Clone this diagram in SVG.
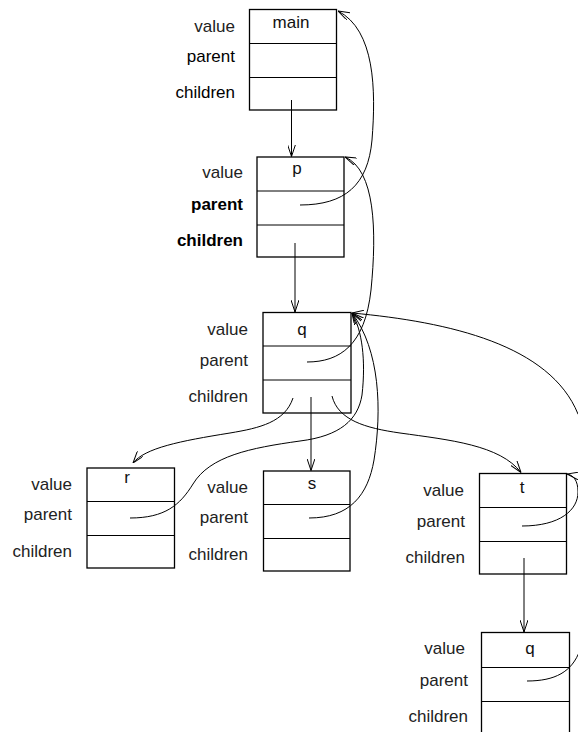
<svg xmlns="http://www.w3.org/2000/svg" width="578" height="732" viewBox="0 0 578 732">
<style>
  .box { fill: #fff; stroke: #000; stroke-width: 1.3; }
  .div { stroke: #000; stroke-width: 1; }
  .lbl { font-family: "Liberation Sans", Arial, sans-serif; font-size: 17px; fill: #222; text-anchor: end; }
  .val { font-family: "Liberation Sans", Arial, sans-serif; font-size: 17px; fill: #111; text-anchor: middle; }
  .dark { fill: #000; }
  .bold { font-weight: bold; fill: #000; }
  .con { fill: none; stroke: #000; stroke-width: 1; marker-end: url(#arr); }
</style>
<defs>
  <marker id="arr" viewBox="0 0 12 8" refX="12" refY="4" markerWidth="12" markerHeight="8" markerUnits="userSpaceOnUse" orient="auto">
    <path d="M0,0 L12,4 L0,8" fill="none" stroke="#000" stroke-width="1"/>
  </marker>
</defs>
<rect width="578" height="732" fill="#fff"/>

<g id="node-main">
  <rect class="box" x="249.5" y="9.5" width="87" height="100.5"/>
  <line class="div" x1="249.5" y1="43.5" x2="336.5" y2="43.5"/>
  <line class="div" x1="249.5" y1="77.5" x2="336.5" y2="77.5"/>
  <text class="val" x="291" y="28">main</text>
  <text class="lbl" x="235" y="32">value</text>
  <text class="lbl dark" x="235" y="62">parent</text>
  <text class="lbl dark" x="235" y="98">children</text>
</g>

<g id="node-p">
  <rect class="box" x="257" y="157" width="87" height="100"/>
  <line class="div" x1="257" y1="191" x2="344" y2="191"/>
  <line class="div" x1="257" y1="225" x2="344" y2="225"/>
  <text class="val" x="297" y="174">p</text>
  <text class="lbl" x="243" y="178">value</text>
  <text class="lbl bold" x="243" y="210">parent</text>
  <text class="lbl bold" x="243" y="246">children</text>
</g>

<g id="node-q">
  <rect class="box" x="263" y="312.5" width="88" height="100.5"/>
  <line class="div" x1="263" y1="346" x2="351" y2="346"/>
  <line class="div" x1="263" y1="380" x2="351" y2="380"/>
  <text class="val" x="302" y="335">q</text>
  <text class="lbl" x="248" y="335">value</text>
  <text class="lbl" x="248" y="366">parent</text>
  <text class="lbl" x="248" y="402">children</text>
</g>

<g id="node-r">
  <rect class="box" x="87" y="468" width="87.5" height="100"/>
  <line class="div" x1="87" y1="501.5" x2="174.5" y2="501.5"/>
  <line class="div" x1="87" y1="535.5" x2="174.5" y2="535.5"/>
  <text class="val" x="127" y="483">r</text>
  <text class="lbl" x="72" y="490">value</text>
  <text class="lbl" x="72" y="520">parent</text>
  <text class="lbl" x="72" y="557">children</text>
</g>

<g id="node-s">
  <rect class="box" x="263.5" y="471" width="86.5" height="100"/>
  <line class="div" x1="263.5" y1="504.5" x2="350" y2="504.5"/>
  <line class="div" x1="263.5" y1="538.5" x2="350" y2="538.5"/>
  <text class="val" x="312" y="489">s</text>
  <text class="lbl" x="248" y="493">value</text>
  <text class="lbl" x="248" y="523">parent</text>
  <text class="lbl" x="248" y="560">children</text>
</g>

<g id="node-t">
  <rect class="box" x="479.5" y="473.5" width="87" height="100.5"/>
  <line class="div" x1="479.5" y1="507.5" x2="566.5" y2="507.5"/>
  <line class="div" x1="479.5" y1="541.5" x2="566.5" y2="541.5"/>
  <text class="val" x="522" y="493">t</text>
  <text class="lbl" x="464" y="496">value</text>
  <text class="lbl" x="465" y="527">parent</text>
  <text class="lbl" x="465" y="563">children</text>
</g>

<g id="node-q2">
  <rect class="box" x="481.5" y="632.5" width="88" height="103"/>
  <line class="div" x1="481.5" y1="667.5" x2="569.5" y2="667.5"/>
  <line class="div" x1="481.5" y1="701.5" x2="569.5" y2="701.5"/>
  <text class="val" x="530" y="654">q</text>
  <text class="lbl" x="465" y="654">value</text>
  <text class="lbl" x="468" y="686">parent</text>
  <text class="lbl" x="468" y="722">children</text>
</g>

<g id="connectors">
  <path class="con" d="M291.5,100 L291.5,156.5"/>
  <path class="con" d="M300,205 C345,205 368,185 372,140 C376,90 375,30 338,11"/>
  <path class="con" d="M295,243 L295,312"/>
  <path class="con" d="M307,362 C340,362 365,345 371,290 C377,230 375,170 345,157"/>
  <path class="con" d="M293,398 C285,422 260,428 230,433 C180,441 145,448 133,463"/>
  <path class="con" d="M311,397 L311,470.5"/>
  <path class="con" d="M332,396 C338,420 365,428 400,433 C450,440 500,445 521,472.5"/>
  <path class="con" d="M130,518 C165,518 180,505 193,484 C210,456 250,448 300,441 C340,436 358,420 362,395 C366,360 362,330 352,313"/>
  <path class="con" d="M309,518 C350,518 368,495 374,460 C382,410 380,350 352,313"/>
  <path class="con" d="M522,526 C560,526 578,510 578,492 C578,480 573,475 567,474"/>
  <path class="con" d="M524,558 L524,632"/>
  <path class="con" d="M527,681 C555,681 572,672 580,650 C610,600 610,450 578,414 C550,345 450,322 352,313"/>
</g>
</svg>
